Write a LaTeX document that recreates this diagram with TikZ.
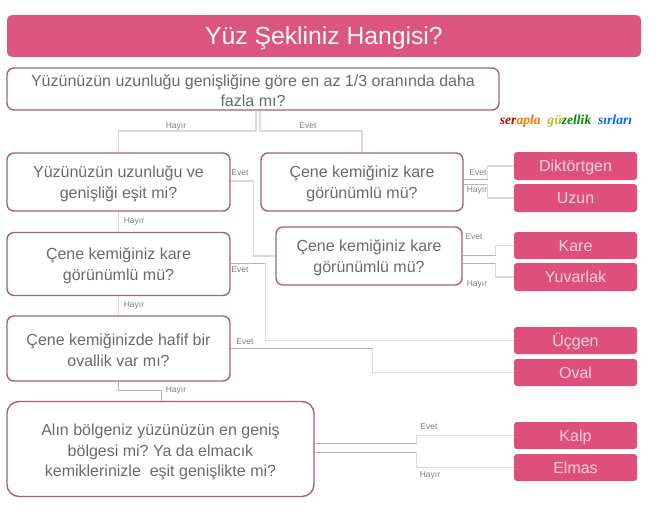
\documentclass[tikz,border=0pt]{standalone}
\usepackage{fontspec}
\setmainfont{Liberation Sans}
\newfontfamily\wmfont{Liberation Serif}
\frenchspacing
\definecolor{pinkfill}{HTML}{DE4F7B}
\definecolor{titlefill}{HTML}{DC5480}
\definecolor{boxedge}{HTML}{A5607E}
\definecolor{txt}{HTML}{6A6A6A}
\definecolor{conn}{HTML}{E2D6DA}
\definecolor{conndark}{HTML}{BFB0B6}
\definecolor{resulttxt}{HTML}{F6D3DE}
\newcommand{\lift}{\rule{0pt}{15pt}}
\tikzset{
  q/.style={draw=boxedge,line width=1.4pt,fill=white,rounded corners=7pt,inner sep=0pt,align=center,text=txt,font=\fontsize{16}{21}\selectfont},
  res/.style={fill=pinkfill,rounded corners=3pt,inner sep=0pt,minimum width=123pt,text=resulttxt,text height=11.5pt,text depth=0pt,font=\fontsize{16}{18}\selectfont},
  lnk/.style={draw=conn,line width=1.2pt},
  lnkd/.style={draw=conndark,line width=1pt},
  lab/.style={inner sep=0pt,text=txt!85,font=\fontsize{8.5}{10}\selectfont},
}
\begin{document}
\begin{tikzpicture}[x=1pt,y=-1pt]
\useasboundingbox (0,0) rectangle (659,512);
\fill[white] (0,0) rectangle (659,512);
\node[fill=titlefill,rounded corners=5pt,minimum width=634pt,minimum height=42pt,inner sep=0pt,text=white!92!pink,text height=17.5pt,text depth=0pt,font=\fontsize{24.7}{26}\selectfont] (title) at (324,36) {Yüz Şekliniz Hangisi?};
\node[q,minimum width=492pt,minimum height=42pt,font=\fontsize{16}{20}\selectfont] (q1) at (253,89) {\rule{0pt}{15pt}Yüzünüzün uzunluğu genişliğine göre en az 1/3 oranında daha\\fazla mı?};
\node[q,minimum width=223pt,minimum height=58pt] (q2) at (118.5,182) {\lift Yüzünüzün uzunluğu ve\\genişliği eşit mi?};
\node[q,minimum width=202pt,minimum height=58pt] (q3) at (362,182) {\lift Çene kemiğiniz kare\\görünümlü mü?};
\node[q,minimum width=223pt,minimum height=63pt] (q4) at (118.5,264) {\lift Çene kemiğiniz kare\\görünümlü mü?};
\node[q,minimum width=186pt,minimum height=58pt] (q6) at (369,256) {\lift Çene kemiğiniz kare\\görünümlü mü?};
\node[q,minimum width=223pt,minimum height=65pt] (q5) at (118.5,348.5) {\lift Çene kemiğinizde hafif bir\\ovallik var mı?};
\node[q,minimum width=307pt,minimum height=95pt,rounded corners=12pt,font=\fontsize{16}{20.5}\selectfont] (q7) at (160.5,449) {\rule{0pt}{18pt}Alın bölgeniz yüzünüzün en geniş\\bölgesi mi? Ya da elmacık\\kemiklerinizle\ \ eşit genişlikte mi?};
\node[res,minimum height=28pt] (dik) at (575.5,166) {Diktörtgen};
\node[res,minimum height=28pt] (uzun) at (575.5,198) {Uzun};
\node[res,minimum height=27pt] (kare) at (575.5,245.5) {Kare};
\node[res,minimum height=28pt] (yuv) at (575.5,277) {Yuvarlak};
\node[res,minimum height=27pt] (ucg) at (575.5,340.5) {Üçgen};
\node[res,minimum height=27pt] (oval) at (575.5,372.5) {Oval};
\node[res,minimum height=27pt] (kalp) at (575.5,435.5) {Kalp};
\node[res,minimum height=27pt] (elmas) at (575.5,467.5) {Elmas};
\coordinate (b1) at (256,131);
\coordinate (b2) at (260,131);
\draw[lnk] (q1.south -| b1) -- (b1) -| (q2.north);
\draw[lnk] (q1.south -| b2) -- (b2) -| (q3.north);
\draw[lnk] ([yshift=1pt]q2.east) -- ++(23,0) |- (q6.west);
\draw[lnk] (q2.south) -- (q4.north);
\draw[lnk] (q4.south) -- (q5.north);
\draw[lnkd] ([yshift=3pt]q3.east) -- ++(24,0) coordinate (k1);
\draw[lnk] (k1) |- (dik.west);
\draw[lnkd] ([yshift=-2pt]q3.east) -- ++(24,0) coordinate (k2);
\draw[lnk] (k2) |- (uzun.west);
\draw[lnkd] ([yshift=1pt]q6.east) -- ++(33,0) coordinate (k3);
\draw[lnk] (k3) |- (kare.west);
\draw[lnkd] ([yshift=-7pt]q6.east) -- ++(33,0) coordinate (k4);
\draw[lnk] (k4) |- (yuv.west);
\draw[lnkd] ([yshift=1pt]q4.east) -- ++(35,0) coordinate (k5);
\draw[lnk] (k5) |- (ucg.west);
\draw[lnkd] (q5.east) -- ++(142,0) coordinate (k6);
\draw[lnk] (k6) |- (oval.west);
\draw[lnkd] ([yshift=6pt]q7.east) -- ++(102,0) coordinate (k7);
\draw[lnk] (k7) |- (kalp.west);
\draw[lnkd] ([yshift=-3pt]q7.east) -- ++(102,0) coordinate (k8);
\draw[lnk] (k8) |- (elmas.west);
\coordinate (b3) at (118,390);
\coordinate (b4) at (161,390);
\draw[lnkd] (q5.south -| b3) -- (b3) -- (b4) -- (q7.north -| b4);
\node[lab] (l1) at (176,126) {Hayır};
\node[lab] (l2) at (308,126) {Evet};
\node[lab] (l3) at (240,173) {Evet};
\node[lab] (l4) at (134,221) {Hayır};
\node[lab] (l5) at (478,173) {Evet};
\node[lab] (l6) at (477,190) {Hayır};
\node[lab] (l7) at (474,237) {Evet};
\node[lab] (l8) at (477,284) {Hayır};
\node[lab] (l9) at (240,270) {Evet};
\node[lab] (l10) at (134,305) {Hayır};
\node[lab] (l11) at (245,342) {Evet};
\node[lab] (l12) at (176,390) {Hayır};
\node[lab] (l13) at (429,427) {Evet};
\node[lab] (l14) at (430,475) {Hayır};
\node[inner sep=0pt,font=\wmfont\bfseries\itshape\fontsize{13.6}{14}\selectfont] (wm) at (566,121) {\textcolor{red!75!black}{ser}\textcolor{orange!90!red}{apla}\ \ \textcolor{yellow!70!black}{gü}\textcolor{green!55!black}{zellik}\ \ \textcolor{blue!60!cyan}{sırları}};
\end{tikzpicture}
\end{document}
